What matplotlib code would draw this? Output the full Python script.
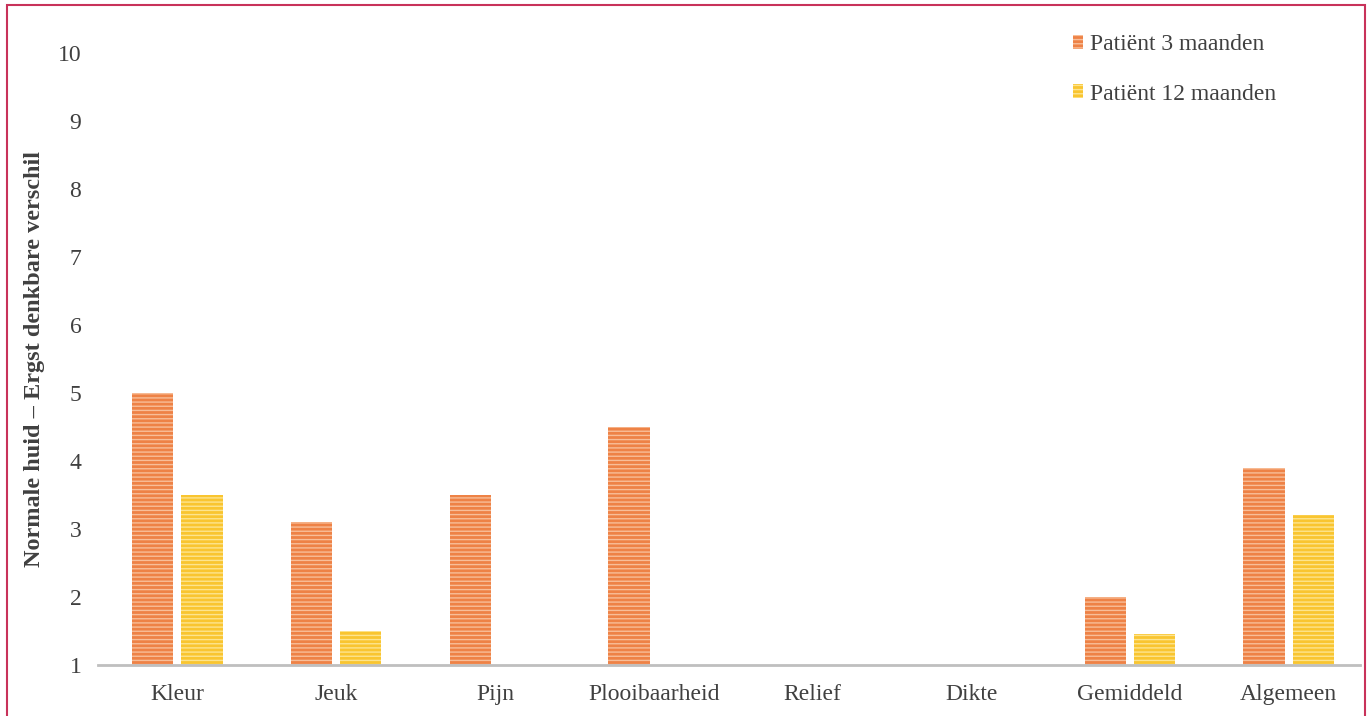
import matplotlib
matplotlib.use("Agg")
import matplotlib.pyplot as plt
import numpy as np
from matplotlib.patches import Rectangle

plt.rcParams['font.family'] = ['Liberation Serif', 'DejaVu Serif']
plt.rcParams['hatch.linewidth'] = 1.0

# scores per item (scale 1-10), 1 = normal skin
categories = ['Kleur', 'Jeuk', 'Pijn', 'Plooibaarheid', 'Relief', 'Dikte', 'Gemiddeld', 'Algemeen']
maand3 = [5.0, 3.1, 3.5, 4.5, 1.0, 1.0, 2.0, 3.9]
maand12 = [3.5, 1.5, 1.0, 1.0, 1.0, 1.0, 1.45, 3.2]
series_names = ['Patiënt 3 maanden', 'Patiënt 12 maanden']
yticks = list(range(1, 11))

fig = plt.figure(figsize=(13.7, 7.16), dpi=100)
ax = fig.add_axes([98/1370, 51/716, 1270/1370, 612/716])

x = np.arange(len(categories))
w = 0.26
base = 1
b1 = ax.bar(x - 0.155, np.array(maand3) - base, w, bottom=base, color='#EE8246',
            edgecolor='#F8BE98', hatch='----', linewidth=0, label=series_names[0])
b2 = ax.bar(x + 0.155, np.array(maand12) - base, w, bottom=base, color='#F9C530',
            edgecolor='#FDE48E', hatch='----', linewidth=0, label=series_names[1])

ax.set_xlim(-0.5, len(categories) - 0.5)
ax.set_ylim(1, 10)
ax.set_yticks(yticks)
ax.set_xticks(x)
ax.set_xticklabels(categories)
ax.tick_params(length=0, labelsize=17, colors='#404040')
ax.tick_params(axis='y', pad=12)
ax.tick_params(axis='x', pad=14)
for s in ['top', 'right', 'left']:
    ax.spines[s].set_visible(False)
ax.spines['bottom'].set_color('#BFBFBF')
ax.spines['bottom'].set_linewidth(2)
ax.spines['bottom'].set_bounds(-0.5, 7.45)

ax.set_ylabel('Normale huid – Ergst denkbare verschil', fontsize=17.5,
              fontweight='bold', color='#404040')
ax.yaxis.set_label_coords(-0.042, 0.5)

leg = fig.legend(handles=[b1, b2], loc='upper left', bbox_to_anchor=(1052/1370, 1 - 13/716),
                 frameon=False, fontsize=17, handlelength=0.4, handleheight=0.5,
                 handletextpad=0.3, labelspacing=1.2)
for t in leg.get_texts():
    t.set_color('#404040')

# frame round the whole figure
fig.patches.append(Rectangle((7/1370, -0.01), 1358/1370, 1.01 - 5/716, transform=fig.transFigure,
                             fill=False, edgecolor='#C8325A', linewidth=1.5))

fig.savefig('out.png', dpi=100)
